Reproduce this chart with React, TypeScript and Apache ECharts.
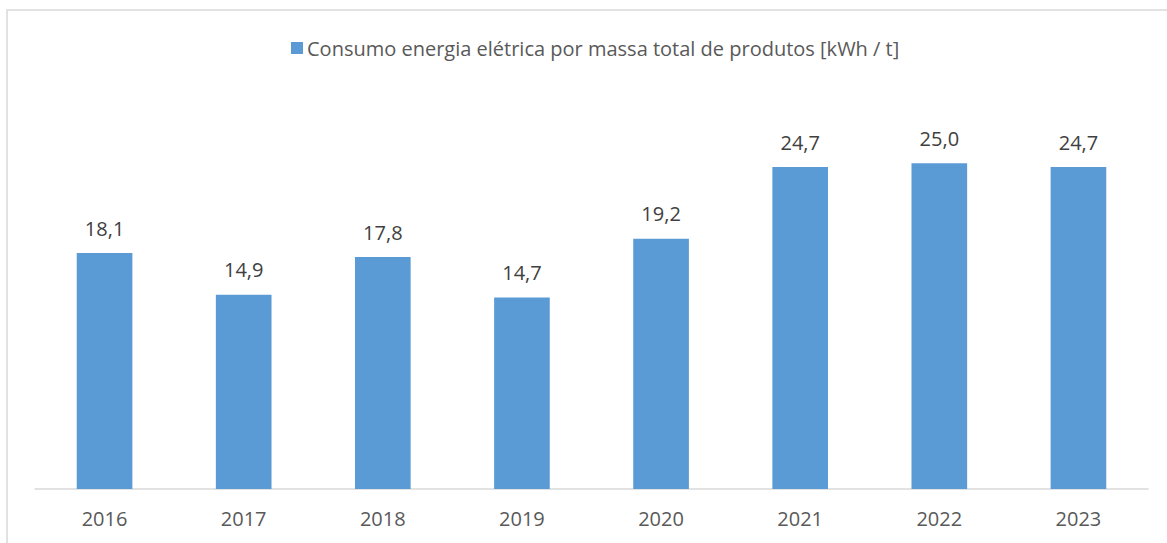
import React, { useEffect, useRef } from "react";
import * as echarts from "echarts";

const categories = ["2016", "2017", "2018", "2019", "2020", "2021", "2022", "2023"];
const values = [18.1, 14.9, 17.8, 14.7, 19.2, 24.7, 25.0, 24.7];
const seriesName = "Consumo energia elétrica por massa total de produtos [kWh / t]";

export default function App() {
  const ref = useRef<HTMLDivElement>(null);
  useEffect(() => {
    if (!ref.current) return;
    const chart = echarts.init(ref.current, null, { renderer: "svg" });
    const font = "Open Sans";
    chart.setOption({
      animation: false,
      backgroundColor: "#ffffff",
      textStyle: { fontFamily: font },
      graphic: [
        {
          type: "rect",
          shape: { x: 7, y: 10, width: 1250, height: 700 },
          style: { fill: "none", stroke: "#d9d9d9", lineWidth: 1.5 },
          silent: true,
        },
      ],
      legend: {
        left: 286,
        top: 33,
        itemWidth: 12,
        itemHeight: 12,
        itemGap: 10,
        icon: "rect",
        textStyle: { fontFamily: font, fontSize: 20, color: "#595959", padding: [0, 0, 0, -1] },
        data: [seriesName],
      },
      grid: { left: 35, right: 19, top: 98, bottom: 54, containLabel: false },
      xAxis: {
        type: "category",
        data: categories,
        axisLine: { show: true, lineStyle: { color: "#d9d9d9", width: 1.5 } },
        axisTick: { show: false },
        axisLabel: { fontFamily: font, fontSize: 20, color: "#595959", margin: 19 },
      },
      yAxis: {
        type: "value",
        min: 0,
        max: 30,
        interval: 5,
        show: false,
        splitLine: { show: false },
      },
      series: [
        {
          name: seriesName,
          type: "bar",
          data: values,
          barWidth: "40%",
          itemStyle: { color: "#5b9bd5" },
          label: {
            show: true,
            position: "top",
            distance: 15,
            fontFamily: font,
            fontSize: 20,
            color: "#404040",
            formatter: (p: any) => Number(p.value).toFixed(1).replace(".", ","),
          },
        },
      ],
    });
    return () => chart.dispose();
  }, []);
  return (
    <div
      ref={ref}
      style={{ position: "absolute", left: 0, top: 0, width: 1167, height: 543 }}
    />
  );
}
